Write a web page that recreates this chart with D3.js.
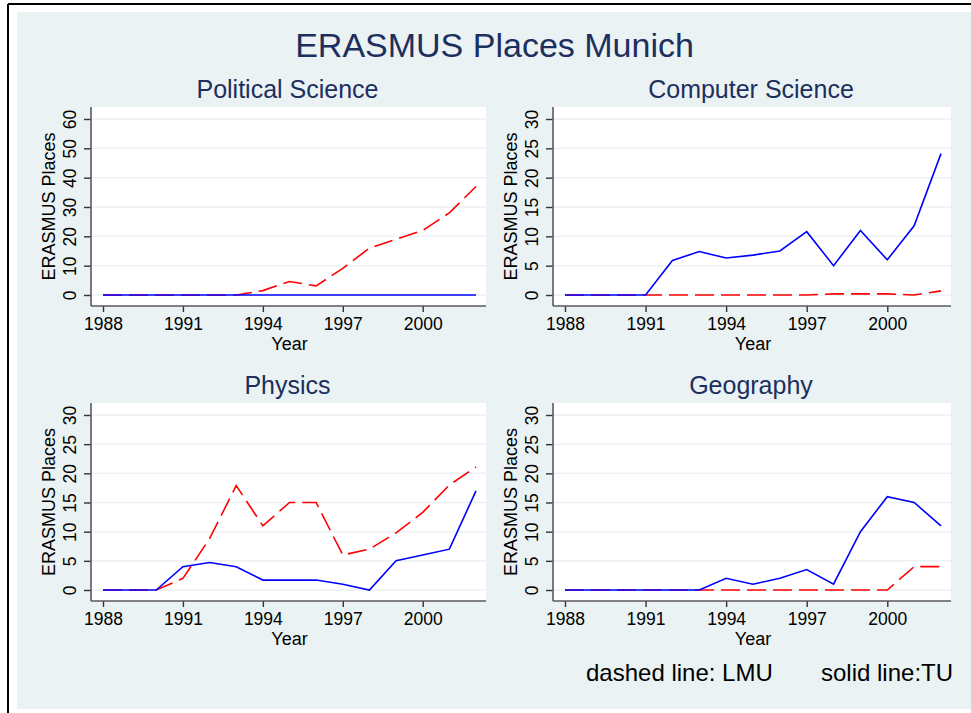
<!DOCTYPE html>
<html>
<head>
<meta charset="utf-8">
<script src="https://cdn.jsdelivr.net/npm/d3@7"></script>
<style>
  html, body { margin: 0; padding: 0; background: #ffffff; }
  svg { display: block; }
  text { font-family: "Liberation Sans", Arial, Helvetica, sans-serif; }
</style>
</head>
<body>
<svg id="chart" width="971" height="713"></svg>
<script>
// ---------------- DATA ----------------
const years = [1988, 1989, 1990, 1991, 1992, 1993, 1994, 1995, 1996, 1997, 1998, 1999, 2000, 2001, 2002];
const xTicks = [1988, 1991, 1994, 1997, 2000];

const panelTitles = ["Political Science", "Computer Science", "Physics", "Geography"];

// LMU (dashed, red)
const polsciLMU  = [0, 0, 0, 0, 0, 0, 1.5, 4.6, 3.1, 9.1, 16, 19, 22, 28, 37];
const compsciLMU = [0, 0, 0, 0, 0, 0, 0, 0, 0, 0, 0.2, 0.2, 0.2, 0, 0.7];
const physicsLMU = [0, 0, 0, 2, 8.8, 17.9, 11, 15, 15, 6, 7, 9.8, 13.3, 18, 21.1];
const geogLMU    = [0, 0, 0, 0, 0, 0, 0, 0, 0, 0, 0, 0, 0, 4, 4];

// TU (solid, blue)
const polsciTU  = [0, 0, 0, 0, 0, 0, 0, 0, 0, 0, 0, 0, 0, 0, 0];
const compsciTU = [0, 0, 0, 0, 5.9, 7.4, 6.3, 6.8, 7.5, 10.8, 5, 11, 6, 11.8, 24.1];
const physicsTU = [0, 0, 0, 4, 4.7, 4, 1.7, 1.7, 1.7, 1, 0, 5, 6, 7, 17];
const geogTU    = [0, 0, 0, 0, 0, 0, 2, 1, 2, 3.5, 1, 10, 16, 15, 11];

const yTicksPolsci = [0, 10, 20, 30, 40, 50, 60];
const yTicksOther  = [0, 5, 10, 15, 20, 25, 30];

const mainTitle = "ERASMUS Places Munich";
const yAxisTitle = "ERASMUS Places";
const xAxisTitle = "Year";
const legendDashed = "dashed line: LMU";
const legendSolid = "solid line:TU";

// ---------------- LAYOUT ----------------
const svg = d3.select("#chart");
const BG = "#eaf2f3";
const TITLE_COLOR = "#1c2f5e";

// outer page frame
svg.append("rect").attr("x", 0).attr("y", 0).attr("width", 971).attr("height", 713).attr("fill", "#ffffff");
svg.append("rect").attr("x", 17).attr("y", 12).attr("width", 954).attr("height", 697).attr("fill", BG);
svg.append("line").attr("x1", 8).attr("x2", 971).attr("y1", 4).attr("y2", 4).attr("stroke", "#000").attr("stroke-width", 2);
svg.append("line").attr("x1", 8).attr("x2", 8).attr("y1", 4).attr("y2", 713).attr("stroke", "#000").attr("stroke-width", 2);

svg.append("text")
  .attr("x", 494.5).attr("y", 57)
  .attr("text-anchor", "middle")
  .attr("font-size", 34)
  .attr("fill", TITLE_COLOR)
  .text(mainTitle);

const panels = [
  { title: panelTitles[0], lmu: polsciLMU,  tu: polsciTU,  ticks: yTicksPolsci, x0: 91,  x1: 486, y0: 107, y1: 306 },
  { title: panelTitles[1], lmu: compsciLMU, tu: compsciTU, ticks: yTicksOther,  x0: 553, x1: 951, y0: 107, y1: 306 },
  { title: panelTitles[2], lmu: physicsLMU, tu: physicsTU, ticks: yTicksOther,  x0: 91,  x1: 486, y0: 403, y1: 601 },
  { title: panelTitles[3], lmu: geogLMU,    tu: geogTU,    ticks: yTicksOther,  x0: 553, x1: 951, y0: 403, y1: 601 }
];

panels.forEach(p => {
  const g = svg.append("g");
  const x = d3.scaleLinear().domain([years[0], years[years.length - 1]]).range([p.x0 + 12, p.x1 - 10]);
  const yMax = d3.max(p.ticks);
  const y = d3.scaleLinear().domain([0, yMax]).range([p.y1 - 11, p.y0 + 12]);

  // plot region
  g.append("rect").attr("x", p.x0).attr("y", p.y0).attr("width", p.x1 - p.x0).attr("height", p.y1 - p.y0).attr("fill", "#ffffff");

  // gridlines
  g.selectAll(".grid").data(p.ticks).enter().append("line")
    .attr("x1", p.x0).attr("x2", p.x1)
    .attr("y1", d => y(d)).attr("y2", d => y(d))
    .attr("stroke", BG).attr("stroke-width", 1.5);

  // panel title
  g.append("text")
    .attr("x", (p.x0 + p.x1) / 2 - 1).attr("y", p.y0 - 9)
    .attr("text-anchor", "middle")
    .attr("font-size", 25)
    .attr("fill", TITLE_COLOR)
    .text(p.title);

  // y axis
  const yAxis = d3.axisLeft(y).tickValues(p.ticks).tickSize(7).tickPadding(9).tickFormat(d3.format("d"));
  const yg = g.append("g").attr("transform", `translate(${p.x0},0)`).call(yAxis);
  yg.select(".domain").remove();
  g.append("line").attr("x1", p.x0).attr("x2", p.x0).attr("y1", p.y0).attr("y2", p.y1)
    .attr("stroke", "#5a5a5a").attr("stroke-width", 1.6);
  yg.selectAll(".tick line").attr("stroke", "#333").attr("stroke-width", 1.4);
  yg.selectAll(".tick text")
    .attr("font-size", 17.5).attr("fill", "#000")
    .attr("font-family", "Liberation Sans, Arial, sans-serif")
    .attr("text-anchor", "middle")
    .attr("dy", 0)
    .attr("x", 0).attr("y", 0)
    .attr("transform", "translate(-15.5,0) rotate(-90)");

  // x axis
  const xAxis = d3.axisBottom(x).tickValues(xTicks).tickSize(6).tickPadding(4).tickFormat(d3.format("d"));
  const xg = g.append("g").attr("transform", `translate(0,${p.y1})`).call(xAxis);
  xg.select(".domain").remove();
  g.append("line").attr("x1", p.x0).attr("x2", p.x1).attr("y1", p.y1).attr("y2", p.y1)
    .attr("stroke", "#5a5a5a").attr("stroke-width", 1.6);
  xg.selectAll(".tick line").attr("stroke", "#333").attr("stroke-width", 1.4);
  xg.selectAll(".tick text")
    .attr("font-size", 17.5).attr("fill", "#000")
    .attr("font-family", "Liberation Sans, Arial, sans-serif")
    .attr("dy", 0).attr("y", 24);

  // axis titles
  g.append("text")
    .attr("transform", `translate(${p.x0 - 36},${(p.y0 + p.y1) / 2}) rotate(-90)`)
    .attr("text-anchor", "middle")
    .attr("font-size", 18)
    .attr("fill", "#000")
    .text(yAxisTitle);
  g.append("text")
    .attr("x", (x.range()[0] + x.range()[1]) / 2).attr("y", p.y1 + 44)
    .attr("text-anchor", "middle")
    .attr("font-size", 18)
    .attr("fill", "#000")
    .text(xAxisTitle);

  const line = d3.line().x((d, i) => x(years[i])).y(d => y(d));

  g.append("path").datum(p.lmu)
    .attr("d", line).attr("fill", "none")
    .attr("stroke", "#ff0000").attr("stroke-width", 1.6)
    .attr("stroke-dasharray", "19,7");
  g.append("path").datum(p.tu)
    .attr("d", line).attr("fill", "none")
    .attr("stroke", "#0000ff").attr("stroke-width", 1.6);
});

// legend / note texts
svg.append("text").attr("x", 586).attr("y", 681).attr("font-size", 24).attr("fill", "#000").text(legendDashed);
svg.append("text").attr("x", 821).attr("y", 681).attr("font-size", 24).attr("fill", "#000").text(legendSolid);
</script>
</body>
</html>
